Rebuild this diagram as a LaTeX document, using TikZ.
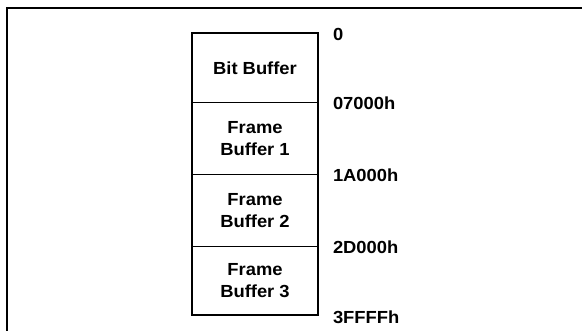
\documentclass[tikz,border=0pt]{standalone}
\usepackage{fontspec}
\setmainfont{Liberation Sans}
\newcommand{\sx}[1]{\scalebox{1.05}[1]{#1}}
\begin{document}
\begin{tikzpicture}[x=1pt,y=-1pt,
  cell/.style={draw, line width=1.6pt, minimum width=126pt, inner sep=0pt, align=center,
    font=\fontsize{17.5}{21.5}\selectfont\bfseries},
  addr/.style={anchor=base west, inner sep=0pt, font=\fontsize{17.5}{21.5}\selectfont\bfseries}]
\useasboundingbox (0,0) rectangle (582,331);
\coordinate (tr) at (582,8);
\coordinate (tl) at (7,8);
\coordinate (bl) at (7,331);
\draw[line width=2.4pt] (tr) -- (tl) -- (bl);
\node[cell, minimum height=69.5pt] (bb) at (255,67.75) {\sx{Bit Buffer}};
\node[cell, minimum height=72pt] (fb1) at (255,138.5) {\sx{Frame}\\\sx{Buffer 1}};
\node[cell, minimum height=72pt] (fb2) at (255,210.5) {\sx{Frame}\\\sx{Buffer 2}};
\node[cell, minimum height=68.5pt] (fb3) at (255,280.75) {\sx{Frame}\\\sx{Buffer 3}};
\node[addr] (a0) at ([xshift=14pt,yshift=-8pt]bb.north east) {\sx{0}};
\node[addr] (a1) at ([xshift=14pt,yshift=-8pt]fb1.north east) {\sx{07000h}};
\node[addr] (a2) at ([xshift=14pt,yshift=-8pt]fb2.north east) {\sx{1A000h}};
\node[addr] (a3) at ([xshift=14pt,yshift=-8pt]fb3.north east) {\sx{2D000h}};
\node[addr] (a4) at ([xshift=14pt,yshift=-8pt]fb3.south east) {\sx{3FFFFh}};
\end{tikzpicture}
\end{document}
